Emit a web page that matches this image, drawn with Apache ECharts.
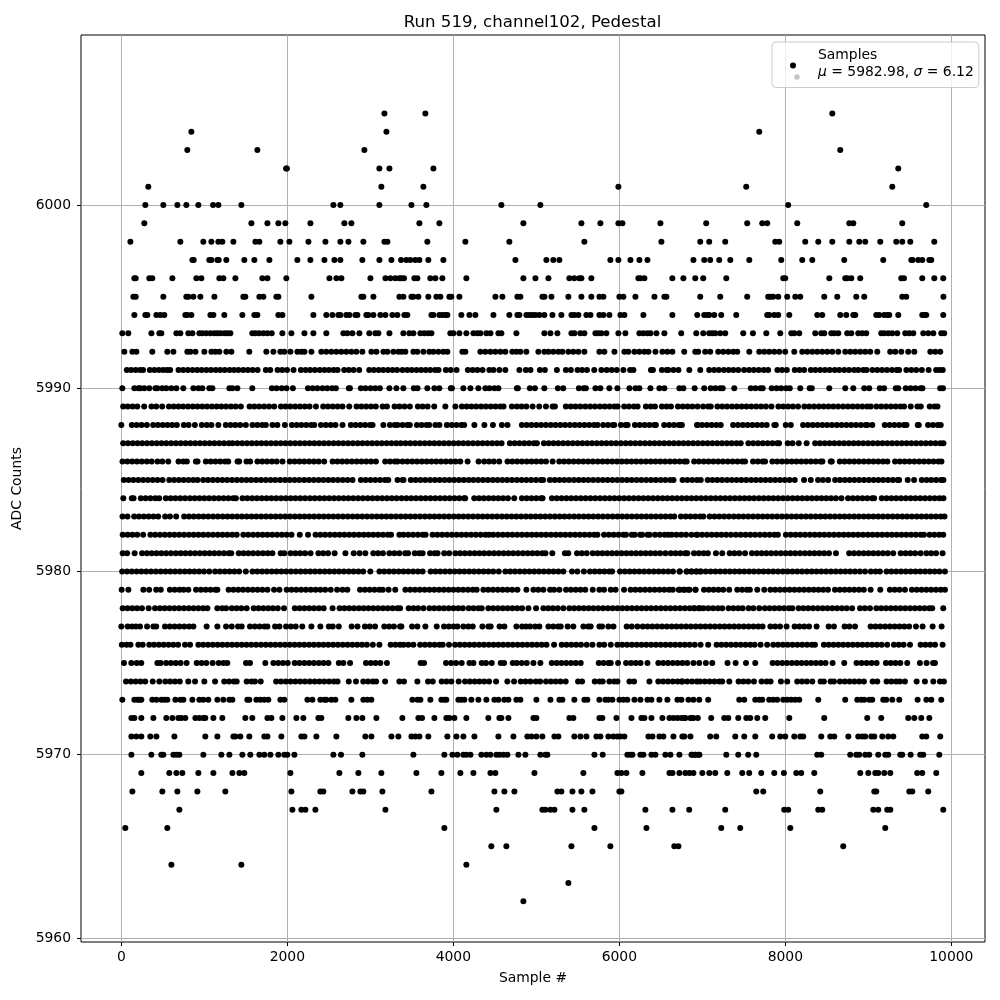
<!DOCTYPE html>
<html>
<head>
<meta charset="utf-8">
<title>Run 519, channel102, Pedestal</title>
<script src="https://cdn.jsdelivr.net/npm/echarts@6/dist/echarts.min.js"></script>
<style>
  html, body { margin: 0; background: #fff; }
  #chart { width: 1000px; height: 1000px; }
</style>
</head>
<body>
<div id="chart"></div>
<script>
// sample numbers, one list per ADC level
const adc6005 = [3170,3663,8566];
const adc6004 = [844,3194,7686];
const adc6003 = [795,1639,2928,8662];
const adc6002 = [1985,1995,3109,3230,3760,9361];
const adc6001 = [325,3133,3639,5989,7529,9289];
const adc6000 = [289,506,675,783,928,1105,1169,1446,2555,2639,3109,3495,3675,4579,5049,8035,9698];
const adc5999 = [277,1567,1760,1892,1976,2278,2687,2772,3591,3832,4844,5543,5772,5989,6037,6495,7047,7541,7722,7782,8144,8771,8819,9409];
const adc5998 = [109,711,988,1085,1169,1217,1350,1615,1663,1916,2025,2254,2459,2639,2736,2916,3170,3206,3687,4145,4675,5579,6507,6975,7083,7276,7879,7927,8240,8397,8566,8771,8891,8963,9144,9337,9409,9506,9795];
const adc5997 = [856,872,1060,1085,1157,1173,1265,1482,1603,1784,2121,2278,2447,2567,2639,2904,3109,3254,3370,3434,3482,3542,3591,3699,3880,4748,5121,5205,5278,5892,5989,6134,6242,6339,6893,7023,7095,7204,7337,7566,7951,8204,8325,8710,9180,9518,9534,9602,9650,9735,9759];
const adc5996 = [157,173,337,373,615,904,964,1181,1229,1374,1699,1760,1988,2507,2591,2651,3001,3182,3242,3302,3350,3374,3406,3531,3567,3723,3784,3868,4157,4844,4989,5146,5398,5458,5519,5543,5663,6230,6254,6302,6639,6772,6915,7011,7289,7975,7999,8530,8722,8746,8795,8903,9397,9429,9650,9795,9903];
const adc5995 = [145,173,506,783,807,868,952,1121,1470,1494,1663,1711,1868,1892,2290,2892,2916,3037,3350,3398,3495,3519,3579,3699,3796,3844,3952,3976,4073,4507,4591,4772,4808,5073,5097,5182,5386,5543,5663,5760,5808,6001,6049,6194,6423,6543,6567,6975,7216,7541,7794,7822,7854,7915,8023,8120,8180,8469,8626,8855,8951,9409,9457,9905];
const adc5994 = [157,289,313,422,470,518,771,795,844,1073,1109,1241,1458,1603,1639,1892,1940,2314,2470,2543,2615,2639,2711,2748,2820,2844,2952,2976,3037,3121,3182,3266,3326,3410,3446,3736,3760,3832,3868,3904,3928,4097,4194,4266,4483,4675,4772,4796,4880,4917,4953,4989,5037,5097,5194,5302,5423,5459,5507,5603,5652,5760,5808,5880,6013,6061,6290,6639,6939,7023,7059,7083,7144,7228,7409,7782,7806,7867,7915,8048,8385,8445,8662,8734,8819,8843,9096,9132,9192,9228,9252,9361,9650,9680,9698,9903];
const adc5993 = [12,84,362,458,482,663,711,807,856,940,976,1024,1073,1121,1157,1193,1241,1277,1314,1578,1615,1660,1711,1760,1812,1940,2049,2206,2314,2470,2675,2723,2784,2868,2988,3061,3097,3230,3398,3470,3519,3603,3651,3699,3736,3964,4001,4073,4157,4242,4290,4326,4398,4447,4543,4579,4760,5097,5170,5254,5423,5459,5531,5579,5712,5748,5784,5844,5989,6073,6242,6290,6339,6375,6447,6543,6746,6927,7011,7083,7120,7156,7216,7276,7493,7610,7771,7939,8072,8108,8168,8361,8433,8469,8554,8590,8638,8746,8795,8879,8927,8975,9156,9192,9240,9288,9349,9445,9493,9542,9662,9722,9783,9879,9915];
const adc5992 = [36,133,181,373,554,627,795,832,893,1000,1085,1133,1181,1265,1326,1542,1747,1832,1916,1964,2037,2121,2169,2206,2290,2410,2470,2531,2591,2651,2711,2772,2832,2904,3013,3073,3157,3206,3278,3338,3378,3422,3519,3567,3639,3711,3760,3820,3880,3928,4109,4145,4326,4386,4447,4507,4567,4627,4711,4760,4808,4880,5025,5097,5146,5205,5266,5314,5386,5446,5507,5579,5760,5820,5941,6061,6109,6182,6242,6302,6351,6435,6519,6579,6639,6782,6915,6951,7035,7095,7192,7252,7313,7373,7421,7566,7686,7746,7806,7867,7927,7999,8108,8204,8264,8325,8385,8445,8505,8566,8638,8722,8783,8843,8903,8963,9023,9108,9264,9325,9397,9481,9554,9747,9807,9867];
const adc5991 = [66,118,172,225,262,343,398,452,505,551,588,689,745,802,858,915,968,1025,1080,1138,1192,1247,1305,1358,1412,1470,1525,1582,1642,1741,1794,1882,1938,1996,2075,2163,2220,2274,2332,2391,2447,2502,2558,2605,2685,2741,2798,2866,2987,3042,3101,3155,3212,3268,3322,3388,3445,3498,3556,3612,3668,3722,3781,3822,3910,3968,4039,4175,4233,4290,4352,4434,4483,4555,4627,4796,4874,4930,5043,5103,5248,5356,5416,5497,5552,5610,5698,5784,5848,5908,5969,6049,6130,6170,6381,6405,6513,6570,6590,6652,6712,6843,6975,7083,7142,7198,7260,7318,7375,7433,7503,7563,7621,7680,7740,7793,7905,7960,8018,8114,8170,8227,8307,8362,8421,8478,8535,8596,8650,8711,8768,8829,8879,8940,8979,9049,9108,9166,9224,9285,9341,9371,9459,9518,9577,9645,9727,9817,9860,9897];
const adc5990 = [12,157,205,229,277,337,410,434,494,542,603,663,747,868,928,976,1060,1097,1302,1338,1398,1578,1814,1870,1932,1990,2067,2248,2305,2362,2424,2480,2538,2585,2741,2754,2886,2942,3003,3060,3115,3230,3314,3398,3524,3569,3687,3772,3832,3970,3983,4121,4206,4302,4386,4434,4495,4543,4766,4778,4922,4983,5097,5260,5324,5513,5570,5597,5712,5772,5880,5977,6122,6194,6242,6375,6483,6543,6724,6772,6907,7023,7101,7158,7214,7246,7385,7584,7641,7700,7728,7836,7895,7951,8010,8054,8180,8294,8319,8530,8722,8819,8951,9011,9138,9190,9331,9361,9451,9510,9568,9630,9652,9866,9900];
const adc5989 = [22,78,135,192,275,363,421,492,573,631,688,745,804,861,918,976,1033,1091,1148,1205,1262,1320,1377,1440,1545,1602,1660,1720,1780,1842,1922,1978,2035,2094,2152,2210,2268,2345,2432,2490,2548,2606,2665,2746,2834,2892,2950,3008,3066,3148,3200,3292,3350,3412,3476,3573,3630,3690,3770,3904,4025,4103,4160,4218,4276,4335,4392,4450,4508,4566,4605,4705,4765,4822,4880,4955,5035,5116,5196,5224,5356,5414,5472,5530,5590,5648,5706,5766,5824,5882,5940,5979,6059,6116,6176,6220,6320,6378,6429,6513,6570,6622,6706,6764,6822,6880,6943,7010,7070,7102,7182,7240,7298,7358,7416,7474,7532,7590,7650,7708,7766,7833,7917,7975,8034,8092,8154,8230,8288,8346,8404,8462,8520,8578,8636,8696,8754,8812,8870,8928,8986,9030,9098,9156,9214,9272,9330,9388,9431,9511,9592,9632,9740,9798,9833];
const adc5988 = [0,126,184,244,307,383,440,498,556,614,669,753,810,886,970,1030,1085,1169,1259,1316,1374,1432,1500,1580,1638,1696,1741,1821,1880,1970,2055,2113,2170,2228,2286,2324,2405,2464,2522,2580,2665,2765,2822,2880,2938,2996,3027,3157,3236,3294,3328,3388,3445,3476,3561,3618,3676,3710,3784,3832,3922,3980,4038,4096,4131,4254,4374,4477,4585,4653,4826,4884,4942,5000,5058,5116,5174,5232,5290,5348,5406,5464,5522,5580,5638,5696,5738,5806,5864,5922,5939,6019,6076,6100,6188,6246,6304,6362,6420,6441,6541,6600,6658,6716,6742,6941,6754,6937,6996,7054,7112,7170,7222,7371,7430,7488,7546,7604,7662,7720,7776,7868,7885,8005,8066,8214,8272,8330,8388,8446,8504,8562,8620,8678,8736,8794,8852,8910,8968,8989,9048,9198,9256,9314,9372,9430,9460,9596,9608,9720,9778,9836,9873];
const adc5987 = [22,80,138,195,252,310,368,426,484,542,600,658,716,774,832,890,948,1006,1064,1122,1180,1238,1296,1340,1398,1456,1514,1572,1630,1688,1746,1804,1862,1920,1978,2036,2094,2152,2210,2268,2326,2384,2442,2500,2558,2616,2674,2732,2790,2848,2906,2964,3022,3080,3138,3196,3254,3312,3366,3424,3482,3540,3598,3656,3714,3772,3830,3888,3946,4004,4062,4120,4178,4236,4294,4352,4410,4468,4526,4581,4681,4739,4797,4855,4913,4971,5007,5091,5149,5207,5265,5323,5381,5439,5497,5555,5613,5671,5729,5787,5845,5903,5961,6019,6077,6135,6193,6251,6309,6367,6425,6483,6541,6599,6657,6715,6773,6831,6889,6947,7005,7063,7121,7179,7237,7295,7353,7411,7463,7555,7613,7671,7729,7787,7845,7903,7925,8029,8087,8162,8257,8359,8417,8475,8533,8591,8649,8707,8765,8823,8881,8939,8997,9055,9113,9171,9229,9287,9345,9403,9461,9519,9577,9635,9693,9751,9809,9867,9905];
const adc5986 = [14,72,130,188,246,307,366,436,494,565,689,747,789,898,918,1018,1076,1134,1192,1250,1288,1400,1420,1508,1552,1640,1698,1756,1814,1872,1942,2030,2088,2146,2204,2262,2320,2378,2444,2545,2603,2661,2719,2777,2835,2893,2951,3009,3067,3179,3237,3295,3328,3388,3446,3504,3562,3620,3678,3736,3794,3852,3910,3968,4026,4084,4172,4304,4372,4430,4488,4553,4653,4711,4769,4827,4885,4943,5001,5059,5117,5196,5276,5334,5392,5450,5508,5566,5624,5682,5740,5798,5856,5914,5972,6030,6088,6146,6204,6262,6320,6378,6436,6494,6552,6610,6668,6726,6784,6812,6901,6959,7017,7075,7133,7191,7249,7307,7365,7423,7481,7515,7611,7669,7727,7756,7844,7902,7960,8018,8076,8134,8192,8250,8308,8366,8424,8447,8547,8560,8656,8714,8772,8830,8888,8946,9004,9062,9120,9178,9230,9322,9380,9438,9496,9554,9612,9670,9728,9786,9844,9881];
const adc5985 = [30,88,146,204,262,320,378,436,496,577,635,693,751,809,867,918,986,1044,1102,1160,1218,1276,1334,1392,1450,1508,1566,1624,1682,1740,1798,1856,1914,1972,2030,2088,2146,2204,2262,2320,2378,2436,2494,2552,2610,2668,2726,2786,2886,2944,3002,3060,3118,3176,3216,3328,3388,3400,3488,3546,3604,3662,3720,3778,3836,3894,3952,4010,4068,4126,4184,4242,4300,4358,4416,4474,4532,4590,4648,4706,4764,4822,4880,4938,4996,5054,5083,5163,5221,5279,5337,5395,5453,5511,5569,5627,5685,5743,5801,5859,5917,5975,6033,6091,6149,6207,6265,6323,6381,6439,6497,6555,6613,6653,6762,6820,6878,6936,6981,7065,7123,7181,7239,7297,7355,7413,7471,7529,7587,7645,7703,7761,7819,7877,7935,7993,8051,8114,8226,8307,8395,8453,8516,8600,8658,8716,8774,8832,8890,8948,9006,9064,9122,9180,9238,9296,9354,9371,9475,9552,9644,9702,9760,9818,9876,9905];
const adc5984 = [24,126,147,235,293,351,409,456,536,594,652,710,768,826,884,942,1000,1058,1116,1174,1232,1290,1348,1380,1460,1518,1576,1634,1692,1750,1808,1866,1924,1982,2040,2098,2156,2214,2272,2330,2388,2446,2504,2562,2620,2678,2736,2794,2852,2910,2968,3026,3084,3142,3200,3258,3316,3376,3434,3492,3550,3608,3666,3724,3782,3840,3898,3956,4014,4072,4130,4143,4252,4310,4368,4426,4484,4542,4600,4658,4734,4826,4884,4942,5000,5058,5075,5188,5246,5304,5362,5420,5478,5536,5594,5652,5710,5768,5826,5884,5942,6000,6058,6116,6174,6232,6290,6348,6406,6464,6522,6580,6638,6696,6754,6812,6870,6928,6986,7044,7102,7160,7218,7276,7334,7392,7450,7508,7566,7624,7682,7740,7798,7856,7914,7972,8030,8088,8146,8204,8262,8320,8378,8436,8494,8552,8610,8676,8756,8814,8872,8930,8988,9046,9070,9162,9220,9278,9336,9394,9452,9510,9568,9626,9684,9742,9800,9858,9905];
const adc5983 = [14,74,155,213,271,329,387,444,528,586,661,757,815,873,931,989,1047,1105,1163,1221,1279,1337,1395,1453,1511,1569,1627,1685,1743,1801,1859,1917,1975,2033,2091,2149,2207,2265,2323,2381,2439,2497,2555,2613,2671,2729,2787,2845,2903,2961,3019,3077,3135,3193,3251,3309,3367,3425,3483,3541,3599,3657,3715,3773,3831,3889,3947,4005,4063,4121,4179,4237,4295,4353,4411,4469,4527,4585,4643,4701,4759,4817,4875,4933,4991,5049,5107,5165,5223,5281,5339,5397,5455,5513,5571,5629,5687,5745,5803,5861,5919,5977,6035,6093,6151,6209,6267,6325,6383,6441,6499,6557,6615,6662,6742,6800,6858,6916,6974,7013,7089,7147,7205,7263,7321,7379,7437,7495,7553,7611,7669,7727,7785,7843,7901,7959,8017,8075,8133,8191,8249,8307,8365,8423,8481,8539,8597,8655,8713,8771,8829,8887,8945,9003,9061,9119,9177,9235,9293,9351,9409,9467,9525,9583,9641,9699,9757,9815,9873,9918];
const adc5982 = [16,75,133,192,263,350,408,466,524,582,640,698,756,814,872,930,988,1046,1104,1162,1220,1278,1336,1390,1470,1528,1586,1644,1702,1760,1818,1876,1934,1992,2050,2150,2250,2340,2398,2456,2514,2572,2630,2688,2746,2804,2862,2920,2978,3036,3094,3152,3210,3250,3350,3400,3458,3516,3574,3632,3666,3750,3808,3866,3924,3982,4040,4098,4156,4214,4272,4330,4388,4430,4480,4538,4596,4654,4712,4770,4828,4886,4944,5002,5060,5118,5176,5234,5292,5350,5408,5466,5524,5582,5640,5698,5736,5816,5874,5932,5990,6048,6080,6150,6185,6250,6275,6340,6365,6430,6488,6546,6590,6630,6688,6746,6804,6870,6930,6940,6998,7056,7114,7172,7230,7288,7346,7404,7462,7520,7578,7636,7694,7752,7810,7868,7910,8007,8065,8123,8181,8239,8297,8355,8413,8471,8529,8587,8645,8703,8761,8819,8877,8935,8993,9051,9109,9167,9225,9283,9341,9399,9457,9515,9573,9631,9670,9738,9796,9854,9903];
const adc5981 = [16,70,160,250,308,366,424,482,540,598,656,714,772,830,888,946,1004,1062,1120,1178,1236,1294,1325,1415,1473,1531,1589,1647,1705,1763,1820,1920,1965,2040,2098,2156,2214,2280,2375,2433,2491,2570,2700,2800,2870,2940,3036,3094,3152,3230,3290,3350,3420,3455,3535,3590,3630,3720,3775,3810,3890,3950,4025,4083,4141,4199,4257,4315,4373,4431,4489,4547,4605,4663,4721,4779,4837,4895,4953,5011,5069,5110,5193,5345,5385,5490,5548,5607,5680,5738,5796,5854,5912,5970,6028,6086,6144,6202,6260,6318,6376,6434,6492,6556,6620,6678,6736,6794,6820,6900,6958,7016,7067,7164,7240,7330,7388,7446,7515,7598,7656,7714,7772,7830,7888,7946,8004,8062,8120,8178,8236,8294,8352,8410,8468,8526,8610,8770,8828,8886,8944,9002,9060,9118,9176,9234,9300,9390,9448,9506,9564,9630,9700,9758,9816,9895];
const adc5980 = [10,68,126,184,242,300,358,416,474,532,590,648,706,764,822,880,938,996,1060,1130,1188,1246,1304,1362,1420,1500,1580,1638,1696,1754,1812,1870,1928,1986,2044,2102,2160,2218,2276,2334,2392,2450,2508,2566,2624,2682,2740,2798,2856,2914,3000,3110,3168,3226,3284,3342,3400,3458,3516,3574,3630,3727,3785,3843,3901,3959,4017,4075,4133,4191,4249,4307,4365,4423,4481,4547,4627,4685,4743,4801,4859,4917,4975,5033,5091,5149,5207,5265,5326,5430,5495,5573,5646,5704,5762,5820,5878,5913,6009,6067,6125,6183,6241,6299,6357,6415,6473,6531,6589,6647,6725,6813,6871,6929,6973,6730,6810,6868,6926,6984,7042,7100,7158,7216,7274,7332,7390,7448,7506,7564,7622,7680,7738,7796,7854,7912,7970,8028,8086,8144,8202,8260,8318,8376,8434,8492,8550,8608,8666,8724,8782,8840,8898,8960,9030,9088,9140,9220,9278,9336,9394,9452,9510,9568,9626,9684,9742,9800,9858,9923];
const adc5979 = [4,85,265,335,420,475,585,643,701,750,807,900,958,1016,1074,1132,1157,1293,1351,1409,1467,1525,1583,1641,1699,1760,1840,1905,1992,2050,2108,2166,2224,2282,2340,2398,2456,2523,2600,2665,2723,2876,2934,2992,3050,3108,3150,3220,3300,3422,3480,3538,3596,3654,3712,3770,3828,3886,3944,4002,4060,4118,4176,4234,4281,4362,4420,4478,4536,4594,4652,4710,4772,4880,4965,5023,5085,5166,5214,5278,5358,5416,5474,5532,5590,5680,5760,5816,5897,5955,6057,6136,6194,6252,6310,6368,6426,6484,6542,6600,6644,6716,6774,6832,6917,6730,6788,6846,6919,7020,7078,7136,7194,7252,7324,7421,7479,7537,7573,7662,7746,7820,7878,7936,7994,8052,8110,8168,8226,8284,8342,8400,8458,8514,8598,8656,8714,8772,8830,8888,8946,9028,9144,9260,9318,9376,9441,9525,9583,9641,9699,9757,9815,9873,9923];
const adc5978 = [16,74,132,190,248,329,406,464,522,580,638,696,754,812,870,928,986,1037,1157,1215,1262,1330,1388,1446,1510,1595,1653,1711,1769,1827,1885,1960,2090,2148,2206,2264,2322,2380,2438,2545,2630,2688,2746,2804,2862,2920,2978,3036,3094,3152,3210,3268,3326,3358,3462,3520,3575,3640,3712,3770,3828,3886,3944,4002,4060,4115,4185,4243,4301,4342,4422,4480,4538,4596,4654,4712,4770,4828,4905,4997,5085,5143,5201,5259,5326,5398,5456,5514,5572,5630,5688,5746,5804,5862,5920,5978,6036,6094,6152,6210,6268,6326,6384,6442,6500,6558,6616,6674,6732,6790,6848,6906,6973,6898,6956,7014,7072,7130,7188,7240,7316,7374,7432,7485,7557,7615,7686,7754,7812,7870,7928,7986,8044,8084,8160,8218,8276,8334,8392,8450,8508,8566,8624,8682,8740,8805,8900,8958,9020,9097,9155,9213,9271,9329,9387,9445,9503,9561,9619,9677,9735,9770,9903];
const adc5977 = [0,76,128,175,225,310,386,420,526,584,642,700,758,816,868,1028,1157,1262,1330,1406,1450,1550,1608,1666,1724,1760,1852,1905,1985,2043,2101,2180,2290,2398,2500,2547,2620,2775,2845,2935,2993,3057,3168,3226,3284,3358,3374,3503,3567,3663,3800,3888,3946,4004,4050,4121,4181,4234,4350,4422,4450,4557,4615,4760,4828,4876,4924,4985,5037,5146,5204,5262,5294,5378,5446,5567,5625,5655,5760,5792,5868,5929,6089,6150,6218,6282,6340,6398,6456,6514,6572,6630,6688,6746,6804,6862,6920,6978,7036,7094,7152,7210,7268,7326,7384,7442,7500,7558,7616,7674,7726,7820,7878,7936,8015,8112,8170,8228,8286,8377,8522,8586,8714,8772,8840,9028,9086,9144,9202,9260,9318,9376,9434,9492,9574,9654,9775,9883];
const adc5976 = [6,62,110,205,257,337,394,452,510,568,626,684,767,828,928,986,1044,1102,1160,1218,1276,1334,1392,1450,1508,1566,1624,1682,1740,1798,1856,1914,1972,2030,2088,2146,2204,2262,2320,2378,2436,2494,2552,2610,2668,2726,2784,2842,2900,2958,3030,3109,3245,3303,3358,3400,3458,3519,3600,3658,3716,3774,3832,3872,3948,4021,4079,4137,4195,4253,4311,4369,4427,4485,4543,4601,4659,4717,4775,4833,4891,4949,5007,5065,5123,5214,5306,5364,5422,5480,5538,5607,5676,5760,5818,5897,5977,6035,6093,6151,6209,6267,6325,6383,6441,6499,6557,6615,6673,6731,6789,6847,6909,6979,7071,7172,7230,7288,7346,7404,7462,7520,7578,7630,7702,7782,7855,7913,7971,8029,8087,8145,8203,8261,8319,8357,8465,8523,8581,8639,8697,8755,8813,8871,8929,8987,9045,9103,9161,9228,9309,9367,9425,9502,9630,9688,9746,9804,9895];
const adc5975 = [32,120,185,240,434,474,540,598,656,714,787,908,966,1024,1100,1173,1231,1277,1502,1550,1735,1832,1890,1948,2005,2089,2147,2205,2263,2321,2379,2437,2495,2620,2675,2756,2947,3005,3063,3121,3200,3606,3647,3912,3973,4033,4101,4194,4242,4342,4394,4463,4571,4611,4716,4764,4824,4885,4965,5049,5186,5244,5302,5360,5418,5476,5535,5752,5810,5868,5897,5985,6081,6139,6197,6255,6339,6470,6528,6586,6644,6702,6760,6818,6893,6963,7043,7120,7304,7401,7526,7638,7847,7905,7963,8021,8079,8137,8195,8253,8311,8369,8427,8485,8570,8710,8858,8919,8979,9039,9100,9212,9270,9328,9386,9469,9622,9702,9780,9803];
const adc5974 = [56,114,172,230,288,378,458,530,588,646,704,807,888,1000,1129,1240,1298,1356,1390,1510,1568,1610,1679,1865,1923,1981,2039,2097,2155,2213,2271,2329,2387,2445,2503,2561,2605,2740,2827,2915,2973,3031,3070,3178,3350,3406,3567,3695,3752,3860,3918,3976,4065,4141,4199,4257,4315,4373,4431,4515,4651,4732,4812,4870,4928,4993,5045,5117,5175,5233,5291,5354,5503,5551,5704,5762,5800,5881,5939,5977,6122,6178,6363,6470,6528,6586,6644,6702,6760,6818,6876,6934,6973,6750,7030,7088,7146,7204,7240,7325,7437,7495,7553,7622,7714,7775,7822,7947,8023,8144,8202,8260,8325,8425,8465,8546,8586,8658,8716,8774,8832,8890,8947,9052,9108,9220,9278,9336,9381,9441,9582,9682,9783,9863,9911];
const adc5973 = [12,157,193,217,241,373,422,482,518,554,651,711,747,856,940,988,1048,1157,1229,1302,1338,1518,1542,1627,1675,1723,1771,1916,1964,2242,2302,2398,2447,2470,2531,2579,2772,2916,2964,3013,3507,3567,3603,3723,3856,3892,3916,4061,4097,4133,4217,4302,4398,4495,4543,4615,4664,4760,4808,5001,5170,5278,5314,5458,5579,5615,5760,5832,5868,5917,6001,6049,6097,6182,6254,6339,6387,6483,6579,6700,6748,6833,6893,6963,7071,7445,7505,7638,7686,7722,7806,7854,7902,7975,8023,8072,8120,8168,8397,8722,8867,8915,8951,9011,9047,9180,9216,9289,9373,9594,9699,9759,9879];
const adc5972 = [121,157,241,386,542,615,687,723,771,892,940,988,1012,1109,1217,1494,1578,1760,1808,1940,2109,2193,2374,2410,2735,2832,2904,3073,3386,3579,3623,3772,3916,3952,4013,4157,4422,4555,4579,4664,4965,5001,5398,5446,5760,5796,5965,6146,6266,6302,6387,6519,6604,6652,6700,6748,6796,6857,6893,6946,6782,6866,7107,7264,7313,7433,7530,7577,7662,7758,8048,8469,8987,9156,9481,9554,9638,9735];
const adc5971 = [121,181,241,349,422,639,1012,1157,1350,1374,1434,1542,1723,1760,1928,2169,2206,2350,2591,2940,3013,3254,3338,3495,3543,3591,3699,3928,4037,4121,4254,4543,4724,4892,4941,5001,5073,5218,5266,5458,5531,5603,5724,5772,5868,5929,5977,6013,6061,6351,6399,6483,6531,6652,6760,6784,6857,7095,7168,7397,7505,7638,7842,7939,7999,8108,8180,8216,8433,8542,8590,8759,8879,8927,8963,9036,9072,9168,9240,9301,9650,9698,9867];
const adc5970 = [121,362,482,506,627,663,699,988,1205,1302,1458,1554,1663,1723,1796,1892,1964,2000,2085,2555,2647,2904,3519,3892,3989,4049,4121,4157,4206,4338,4398,4447,4519,4555,4603,4651,4784,4868,5049,5109,5133,5700,5800,6097,6134,6158,6254,6290,6387,6435,6555,6616,6724,6869,6917,6965,6879,6915,6951,7289,7433,7553,7650,8385,8433,8782,8855,8891,8963,9011,9120,9204,9240,9385,9409,9510,9626,9662,9855];
const adc5969 = [241,578,663,735,928,1109,1338,1422,1482,2037,2627,2856,3133,3555,3856,4085,4242,4447,4507,4977,5567,5977,6025,6085,6278,6604,6640,6724,6796,6845,6893,7000,7084,7156,7301,7481,7565,7710,7867,7983,8132,8192,8349,8903,9000,9084,9120,9192,9265,9589,9650,9819];
const adc5968 = [133,494,675,916,1253,2049,2398,2434,2784,2880,2916,3145,3736,4495,4615,4736,5254,5302,5435,5543,5676,6001,6025,7650,7734,8421,9072,9096,9494,9530,9722];
const adc5967 = [699,2061,2169,2218,2338,3182,4519,5073,5109,5170,5218,5435,5579,6314,6640,6842,7276,7987,8035,8397,8445,9060,9120,9228,9265,9903];
const adc5966 = [48,554,3892,5700,6327,7228,7457,8060,9204];
const adc5965 = [4458,4639,5423,5892,6663,6712,8698];
const adc5964 = [603,1446,4157];
const adc5963 = [5386];
const adc5962 = [4844];

const adcLevels = [6005,6004,6003,6002,6001,6000,5999,5998,5997,5996,5995,5994,5993,5992,5991,5990,5989,5988,5987,5986,5985,5984,5983,5982,5981,5980,5979,5978,5977,5976,5975,5974,5973,5972,5971,5970,5969,5968,5967,5966,5965,5964,5963,5962];
const levelSamples = [adc6005,adc6004,adc6003,adc6002,adc6001,adc6000,adc5999,adc5998,adc5997,adc5996,adc5995,adc5994,adc5993,adc5992,adc5991,adc5990,adc5989,adc5988,adc5987,adc5986,adc5985,adc5984,adc5983,adc5982,adc5981,adc5980,adc5979,adc5978,adc5977,adc5976,adc5975,adc5974,adc5973,adc5972,adc5971,adc5970,adc5969,adc5968,adc5967,adc5966,adc5965,adc5964,adc5963,adc5962];

const xTicks = [0, 2000, 4000, 6000, 8000, 10000];
const yTicks = [5960, 5970, 5980, 5990, 6000];

const points = [];
adcLevels.forEach((level, i) => {
  levelSamples[i].forEach((sample) => points.push([sample, level]));
});

const fontFamily = "DejaVu Sans";
const labelSize = 13.9;

const chart = echarts.init(document.getElementById("chart"), null, { renderer: "canvas" });
chart.setOption({
  animation: false,
  backgroundColor: "#fff",
  textStyle: { fontFamily: fontFamily },
  title: {
    text: "Run 519, channel102, Pedestal",
    left: 527.5,
    top: 9,
    textAlign: "center",
    textStyle: { fontFamily: fontFamily, fontSize: 16.6, fontWeight: "normal", color: "#000" },
  },
  grid: {
    left: 81,
    right: 15,
    top: 35,
    bottom: 58,
    show: true,
    borderColor: "#000",
    borderWidth: 1,
  },
  legend: {
    left: 772,
    top: 42,
    padding: [6, 5, 4, 18],
    itemWidth: 40,
    itemHeight: 6,
    backgroundColor: "rgba(255,255,255,0.8)",
    borderColor: "#ccc",
    borderWidth: 1,
    borderRadius: 4,
    icon: "circle",
    data: ["Samples"],
    // the extra short line keeps the marker below the middle of the two text lines
    formatter: () => "{t|Samples}\n{t|}{i|μ}{t| = 5982.98, }{i|σ}{t| = 6.12}\n{s| }",
    textStyle: {
      rich: {
        t: { fontFamily: fontFamily, fontSize: labelSize, color: "#000", lineHeight: 17 },
        i: { fontFamily: fontFamily, fontSize: labelSize, fontStyle: "italic", color: "#000", lineHeight: 17 },
        s: { fontSize: 2, lineHeight: 4 },
      },
    },
  },
  xAxis: {
    type: "value",
    min: -486,
    max: 10406,
    name: "Sample #",
    nameLocation: "middle",
    nameGap: 29,
    nameTextStyle: { fontFamily: fontFamily, fontSize: labelSize, color: "#000" },
    axisLine: { show: false, onZero: false },
    axisTick: { show: true, length: 4, customValues: xTicks, lineStyle: { color: "#000" } },
    axisLabel: { show: true, customValues: xTicks, color: "#000", fontSize: labelSize, margin: 8, formatter: (v) => String(v) },
    splitLine: { show: true, lineStyle: { color: "#b0b0b0", width: 1 } },
  },
  yAxis: {
    type: "value",
    min: 5959.78,
    max: 6009.28,
    name: "ADC Counts",
    nameLocation: "middle",
    nameGap: 50,
    nameTextStyle: { fontFamily: fontFamily, fontSize: labelSize, color: "#000" },
    axisLine: { show: false, onZero: false },
    axisTick: { show: true, length: 4, customValues: yTicks, lineStyle: { color: "#000" } },
    axisLabel: { show: true, customValues: yTicks, color: "#000", fontSize: labelSize, margin: 10, formatter: (v) => String(v) },
    splitLine: { show: true, lineStyle: { color: "#b0b0b0", width: 1 } },
  },
  series: [
    {
      name: "Samples",
      type: "scatter",
      symbol: "circle",
      symbolSize: 6,
      itemStyle: { color: "#000", opacity: 1 },
      data: points,
      z: 3,
      // grey second dot of the legend handle, sits on top of the legend box
      markPoint: {
        silent: true,
        z: 20,
        animation: false,
        symbol: "circle",
        symbolSize: 5.6,
        label: { show: false },
        itemStyle: { color: "#c4c4c4" },
        data: [{ x: 797, y: 77 }],
      },
    },
  ],
});
</script>
</body>
</html>
